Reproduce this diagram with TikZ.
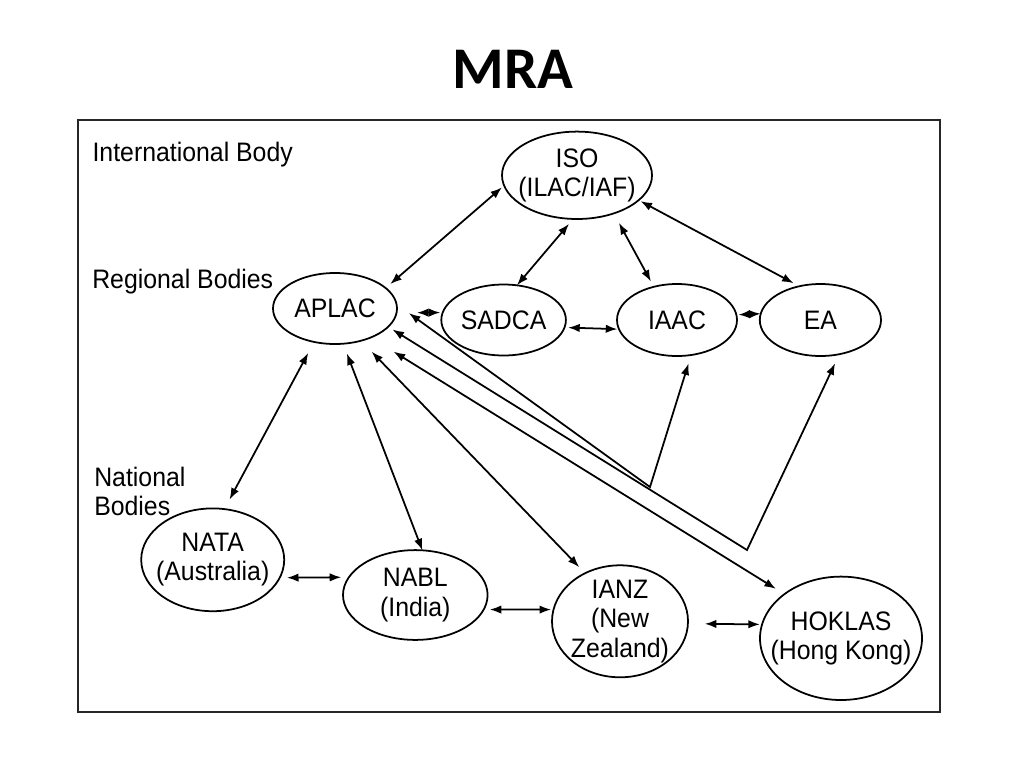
\documentclass[tikz,border=0pt]{standalone}
\usepackage{fontspec}
\usepackage{tikz}
\usetikzlibrary{arrows.meta,shapes.geometric}
\newfontfamily\diagfont{Liberation Sans}[FakeStretch=0.93]
\newfontfamily\titlefont{Carlito}

\begin{document}
\begin{tikzpicture}[
    x=0.25mm, y=-0.25mm,
    font=\diagfont\fontsize{19}{21}\selectfont,
    body/.style={draw, ellipse, line width=1.25pt, align=center, inner sep=-4mm, outer sep=0pt},
    tag/.style={anchor=base west, inner sep=0pt, align=left},
    link/.style={{Latex[length=2.9mm,width=2.1mm]}-{Latex[length=2.9mm,width=2.1mm]}, line width=1.25pt}
]
\useasboundingbox (0,0) rectangle (1024,768);
\node[font=\titlefont\bfseries\fontsize{42}{50}\selectfont, anchor=base] (title) at (513,88.3) {MRA};
\draw[line width=1.5pt, black!85] (78,120) rectangle (940,712);
\node[tag] (intl) at (92.3,161) {International Body};
\node[tag] (regional) at (92,288.3) {Regional Bodies};
\node[tag, font=\diagfont\fontsize{19}{20}\selectfont] (national) at (94,515) {National\\Bodies};
\node[body, minimum width=37.5mm, minimum height=21.85mm] (iso) at (577,175.3) {ISO\\(ILAC/IAF)};
\node[body, minimum width=31mm, minimum height=17.75mm] (aplac) at (335,308.5) {APLAC};
\node[body, minimum width=31.15mm, minimum height=17.75mm] (sadca) at (503.6,320) {SADCA};
\node[body, minimum width=30mm, minimum height=18mm] (iaac) at (677,320) {IAAC};
\node[body, minimum width=30.3mm, minimum height=18mm] (ea) at (820.4,320) {EA};
\node[body, minimum width=35.75mm, minimum height=25.7mm] (nata) at (212.7,559.8) {NATA\\(Australia)};
\node[body, minimum width=36.15mm, minimum height=22.45mm] (nabl) at (415.3,595) {NABL\\(India)};
\node[body, minimum width=34mm, minimum height=28mm] (ianz) at (620,621.3) {IANZ\\(New\\Zealand)};
\node[body, minimum width=40.5mm, minimum height=30.85mm] (hoklas) at (841,638.3) {HOKLAS\\(Hong Kong)};
\coordinate (bendiaac) at (650,487);
\coordinate (bendea) at (747,550);
\draw[link, shorten <=0.7mm, shorten >=1.5mm] (iso.-172.2) -- (aplac.22.6);
\draw[link, shorten <=1.6mm] (iso.-95.2) -- (sadca.69);
\draw[link, shorten <=2.7mm, shorten >=1.5mm] (iso.-46.8) -- (iaac.125.6);
\draw[link, shorten <=0.5mm, shorten >=1.6mm] (iso.-22.7) -- (ea.122.6);
\draw[link, shorten <=5.1mm, shorten >=0.6mm] (aplac.-4.2) -- (sadca.173.5);
\draw[link, shorten <=0.9mm, shorten >=0.4mm] (sadca.-7.8) -- (iaac.-171.9);
\draw[link, shorten <=0.5mm] (iaac.5.5) -- (ea.174.6);
\draw[link, shorten <=3.1mm, shorten >=2.7mm] (aplac.-122) -- (nata.77.9);
\draw[link, shorten <=2.6mm] (aplac.-77.8) -- (nabl.81.7);
\draw[link, shorten <=3.8mm, shorten >=2.1mm] (aplac.-51.3) -- (ianz.126.9);
\draw[link, shorten <=6.7mm, shorten >=2.5mm] (aplac.-39.3) -- (hoklas.142);
\draw[link, shorten <=3.8mm, shorten >=2.2mm] (aplac.4.2) -- (bendiaac) -- (iaac.-68.3);
\draw[link, shorten <=1.25mm, shorten >=2.5mm] (aplac.-19.8) -- (bendea) -- (ea.-61.1);
\draw[link, shorten <=1.8mm, shorten >=1.9mm] (nata.-15) -- (nabl.165.5);
\draw[link, shorten <=1.5mm, shorten >=0.6mm] (nabl.-12.8) -- (ianz.170.7);
\draw[link, shorten <=4.2mm, shorten >=0.55mm] (ianz.-2.7) -- (hoklas.170.3);
\end{tikzpicture}
\end{document}
